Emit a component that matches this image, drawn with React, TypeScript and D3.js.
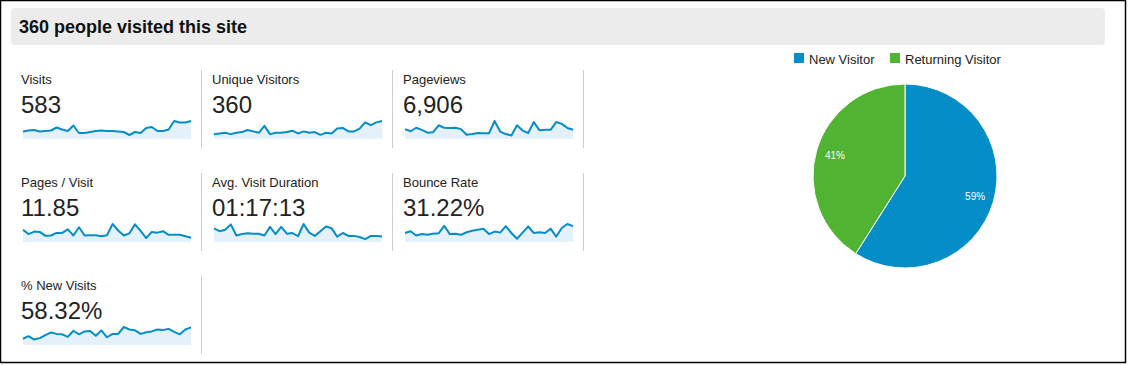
import { useMemo } from 'react'
import * as d3 from 'd3'

const title = '360 people visited this site'

const metricLabels = [
    'Visits',
    'Unique Visitors',
    'Pageviews',
    'Pages / Visit',
    'Avg. Visit Duration',
    'Bounce Rate',
    '% New Visits',
]
const metricValues = ['583', '360', '6,906', '11.85', '01:17:13', '31.22%', '58.32%']

// daily values
const visits = [15, 17, 18, 15, 16, 17, 23, 19, 16, 27, 12, 12, 14, 16, 17, 16, 16, 15, 14, 8, 14, 12, 22, 24, 16, 16, 19, 36, 33, 33, 36]
const uniqueVisitors = [7, 8, 9, 7, 9, 10, 13, 11, 9, 19, 7, 9, 9, 10, 12, 8, 11, 9, 10, 6, 9, 8, 15, 16, 11, 11, 15, 24, 20, 24, 26]
const pageviews = [241, 189, 275, 224, 155, 163, 335, 275, 267, 275, 241, 103, 120, 146, 138, 138, 439, 181, 120, 86, 335, 206, 146, 413, 215, 224, 224, 413, 370, 267, 224]
const pagesPerVisit = [16, 10.3, 13.6, 13.2, 8, 8.5, 11.8, 11.8, 16.5, 8.5, 19.3, 8.5, 8.9, 8.9, 7.5, 8.9, 23.5, 15, 8.5, 11.3, 23, 14.6, 5.2, 13.2, 12.2, 14.1, 9.4, 9.4, 9.4, 7.5, 5.6]
const visitDuration = [114, 90, 102, 147, 54, 66, 72, 69, 69, 54, 126, 66, 126, 69, 75, 48, 150, 78, 51, 90, 129, 114, 45, 75, 51, 51, 42, 24, 51, 51, 45]
const bounceRate = [27.5, 33, 19.8, 24.2, 22, 25.3, 26.4, 49.5, 24.2, 25.3, 22, 29.7, 34.1, 37.4, 40.7, 24.2, 31.9, 28.6, 48.4, 27.5, 9.9, 28.6, 47.3, 27.5, 29.7, 27.5, 40.7, 16.5, 42.9, 55, 48.4]
const newVisits = [30, 42, 26, 33, 47, 60, 53, 51, 39, 68, 51, 65, 67, 44, 70, 37, 53, 53, 86, 74, 70, 53, 61, 65, 74, 72, 77, 63, 51, 74, 84]

const metricSeries = [visits, uniqueVisitors, pageviews, pagesPerVisit, visitDuration, bounceRate, newVisits]

const pieLabels = ['New Visitor', 'Returning Visitor']
const pieValues = [59, 41]
const pieColors = ['#058dc7', '#50b432']

const FONT = 'Arial, "Liberation Sans", sans-serif'

const Sparkline = ({ data, x0, x1, y0, y1 }: { data: number[]; x0: number; x1: number; y0: number; y1: number }) => {
    const x = d3.scaleLinear().domain([0, data.length - 1]).range([x0, x1])
    const y = d3.scaleLinear().domain([0, d3.max(data)!]).range([y0, y1])
    const area = d3
        .area<number>()
        .x((_, i) => x(i))
        .y0(y0)
        .y1(d => y(d))
    const line = d3
        .line<number>()
        .x((_, i) => x(i))
        .y(d => y(d))
    return (
        <g>
            <path d={area(data)!} fill='#e5f1fa' />
            <path d={line(data)!} fill='none' stroke='#058dc7' strokeWidth={2} strokeLinejoin='round' />
        </g>
    )
}

const App = () => {
    const width = 1128
    const height = 365

    const arcs = useMemo(() => d3.pie<number>().sort(null)(pieValues), [])
    const cx = 905
    const cy = 176
    const r = 92
    const arcGen = d3.arc<d3.PieArcDatum<number>>().innerRadius(0).outerRadius(r)
    const labelArc = d3.arc<d3.PieArcDatum<number>>().innerRadius(73).outerRadius(73)

    return (
        <div style={{ position: 'fixed', left: 0, top: 0 }}>
            <svg width={width} height={height} style={{ display: 'block', fontFamily: FONT }}>
                <rect x={0} y={0} width={width} height={height} fill='#fff' />
                <rect x={0.5} y={0.5} width={1125} height={362} fill='none' stroke='#000' strokeWidth={1.5} />

                {/* header */}
                <rect x={11} y={8} width={1094} height={37} rx={4} fill='#ececec' />
                <text x={19} y={33} fontSize={18} fontWeight='bold' fill='#111'>
                    {title}
                </text>

                {/* metric cells */}
                {metricLabels.map((label, i) => {
                    const col = i % 3
                    const row = Math.floor(i / 3)
                    const cxl = 21 + col * 191
                    const ry = 70 + row * 103
                    return (
                        <g key={label}>
                            <line x1={cxl + 180.5} x2={cxl + 180.5} y1={ry} y2={ry + 78} stroke='#cccccc' />
                            <text x={cxl} y={ry + 14} fontSize={13} fill='#222'>
                                {label}
                            </text>
                            <text x={cxl} y={ry + 43} fontSize={24} fill='#222'>
                                {metricValues[i]}
                            </text>
                            <Sparkline data={metricSeries[i]} x0={cxl + 2} x1={cxl + 170} y0={ry + 69} y1={ry + 51} />
                        </g>
                    )
                })}

                {/* legend */}
                {pieLabels.map((label, i) => {
                    const lx = i === 0 ? 794 : 890
                    return (
                        <g key={label}>
                            <rect x={lx} y={53} width={10} height={10} fill={pieColors[i]} />
                            <text x={lx + 15} y={64} fontSize={13} fill='#222'>
                                {label}
                            </text>
                        </g>
                    )
                })}

                {/* pie */}
                <g transform={`translate(${cx},${cy})`}>
                    {arcs.map((a, i) => (
                        <path key={i} d={arcGen(a)!} fill={pieColors[i]} stroke='#fff' strokeWidth={1} />
                    ))}
                    {arcs.map((a, i) => {
                        const [lx, ly] = labelArc.centroid(a)
                        return (
                            <text key={i} x={lx} y={ly} fontSize={10} fill='#fff' textAnchor='middle' dominantBaseline='central'>
                                {pieValues[i]}%
                            </text>
                        )
                    })}
                </g>
            </svg>
        </div>
    )
}

export default App
